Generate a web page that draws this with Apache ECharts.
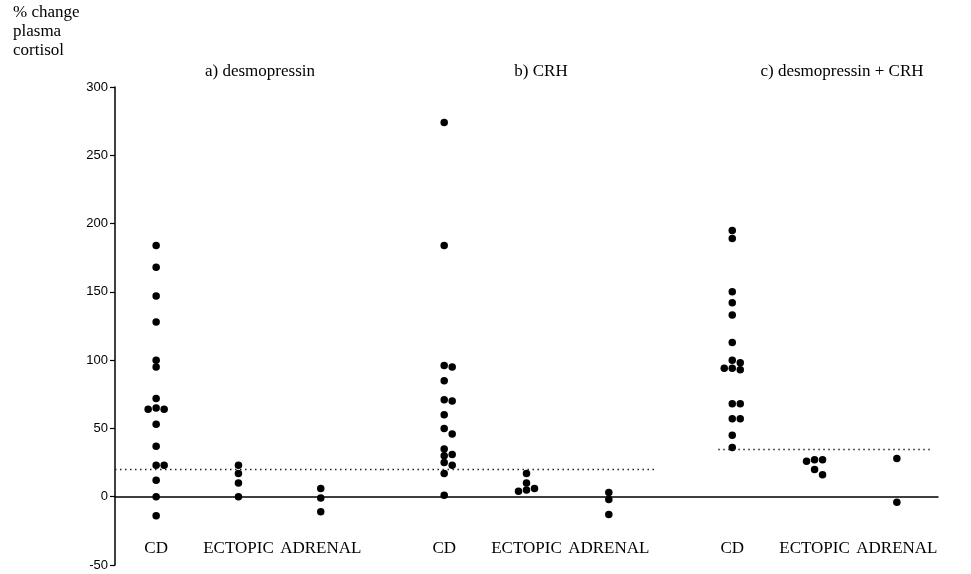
<!DOCTYPE html>
<html>
<head>
<meta charset="utf-8">
<script src="https://cdn.jsdelivr.net/npm/echarts@6/dist/echarts.min.js"></script>
<style>
    html, body { margin: 0; background: #fff; }
    #chart { width: 971px; height: 574px; }
</style>
</head>
<body>
<div id="chart"></div>
<script>
    // groups inside each panel
    var groupNames = ['CD', 'ECTOPIC', 'ADRENAL'];
    var panelTitles = ['a) desmopressin', 'b) CRH', 'c) desmopressin + CRH'];
    var yTicks = [-50, 0, 50, 100, 150, 200, 250, 300];

    // % change plasma cortisol
    var desmoCD = [184, 168, 147, 128, 100, 95, 72, 65, 64, 64, 53, 37, 23, 23, 12, 0, -14];
    var desmoEctopic = [23, 17, 10, 0];
    var desmoAdrenal = [6, -1, -11];
    var crhCD = [274, 184, 96, 95, 85, 71, 70, 60, 50, 46, 35, 31, 30, 25, 23, 17, 1];
    var crhEctopic = [17, 10, 6, 5, 4];
    var crhAdrenal = [3, -2, -13];
    var bothCD = [195, 189, 150, 142, 133, 113, 100, 98, 94, 94, 93, 68, 68, 57, 57, 45, 36];
    var bothEctopic = [27, 27, 26, 20, 16];
    var bothAdrenal = [28, -4];

    // dotted cut-off per panel
    var cutoffs = [20, 20, 35];

    var panels = [
        [desmoCD, desmoEctopic, desmoAdrenal],
        [crhCD, crhEctopic, crhAdrenal],
        [bothCD, bothEctopic, bothAdrenal]
    ];

    // layout (x axis units): where each panel starts, and cut-off line extents
    var panelStart = [0, 3.5, 7];
    var cutoffSpan = [[-0.5, 2.75], [2.75, 6.05], [6.83, 9.43]];

    var labelPos = [];
    var labelText = {};
    var points = [];

    // simple beeswarm: values close together get put side by side
    function swarm(values) {
        var sorted = values.slice().sort(function (a, b) { return b - a; });
        var placed = [];
        var slots = [0, 1, -1, 2, -2];
        return sorted.map(function (v) {
            for (var i = 0; i < slots.length; i++) {
                var hit = placed.some(function (p) {
                    return p.slot === slots[i] && Math.abs(p.v - v) < 4.4;
                });
                if (!hit) {
                    placed.push({v: v, slot: slots[i]});
                    return {v: v, slot: slots[i]};
                }
            }
            return {v: v, slot: 0};
        });
    }

    panels.forEach(function (groups, pi) {
        groups.forEach(function (vals, gi) {
            var x = panelStart[pi] + gi;
            labelPos.push(x);
            labelText[x] = groupNames[gi];
            swarm(vals).forEach(function (d) {
                points.push({
                    value: [x, d.v],
                    symbolOffset: [d.slot * 8, 0]
                });
            });
        });
    });

    var cutLines = cutoffs.map(function (c, i) {
        return [{coord: [cutoffSpan[i][0], c]}, {coord: [cutoffSpan[i][1], c]}];
    });

    var titleX = [260, 541, 842];
    var graphics = panelTitles.map(function (t, i) {
        return {
            type: 'text',
            x: titleX[i],
            y: 72,
            style: {
                text: t,
                fill: '#000',
                font: '17px "Liberation Serif"',
                textAlign: 'center',
                textVerticalAlign: 'middle'
            }
        };
    });
    graphics.push({
        type: 'text',
        left: 13,
        top: 3,
        style: {
            text: '% change\nplasma\ncortisol',
            fill: '#000',
            font: '17px "Liberation Serif"',
            lineHeight: 19
        }
    });

    var chart = echarts.init(document.getElementById('chart'));
    chart.setOption({
        animation: false,
        backgroundColor: '#fff',
        grid: {left: 115, right: 33, top: 87, bottom: 9, outerBoundsMode: 'none'},
        graphic: graphics,
        xAxis: {
            type: 'value',
            min: -0.5,
            max: 9.5,
            splitLine: {show: false},
            axisTick: {show: false},
            axisLine: {
                onZero: true,
                lineStyle: {color: '#000', width: 1.5}
            },
            axisLabel: {
                customValues: labelPos,
                // labels stay at grid bottom, pull them up under the zero line
                margin: -25,
                color: '#000',
                fontFamily: 'Liberation Serif',
                fontSize: 17,
                formatter: function (v) { return labelText[v] || ''; }
            }
        },
        yAxis: {
            type: 'value',
            min: yTicks[0],
            max: yTicks[yTicks.length - 1],
            interval: 50,
            splitLine: {show: false},
            axisLine: {
                onZero: false,
                lineStyle: {color: '#000', width: 1.5}
            },
            axisTick: {length: 5, lineStyle: {color: '#000', width: 1.2}},
            axisLabel: {
                margin: 7,
                color: '#000',
                fontFamily: 'Liberation Sans',
                fontSize: 13
            }
        },
        series: [
            {
                type: 'scatter',
                symbol: 'circle',
                symbolSize: 7.5,
                itemStyle: {color: '#000', opacity: 1},
                data: points,
                markLine: {
                    silent: true,
                    symbol: ['none', 'none'],
                    label: {show: false},
                    lineStyle: {color: '#222', type: [1.5, 3.5], width: 1.3},
                    data: cutLines
                }
            }
        ]
    });
</script>
</body>
</html>
